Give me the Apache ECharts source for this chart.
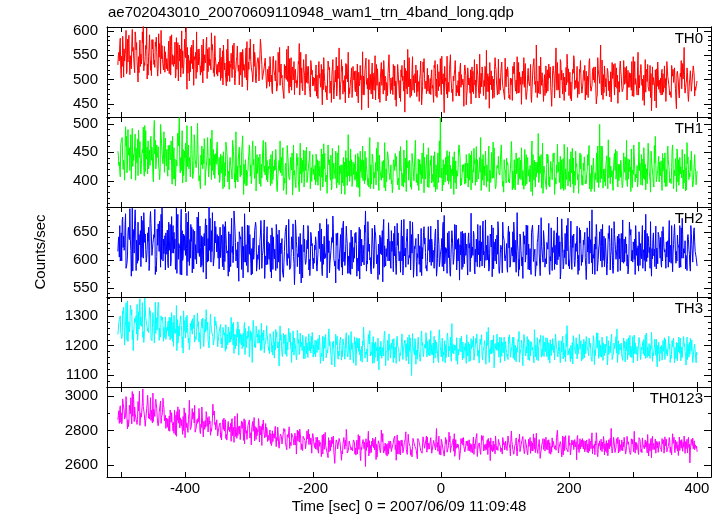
<!DOCTYPE html>
<html>
<head>
<meta charset="utf-8">
<script src="https://cdn.jsdelivr.net/npm/echarts@6/dist/echarts.min.js"></script>
<style>html,body{margin:0;padding:0;background:#fff}#c{width:724px;height:516px}</style>
</head>
<body>
<div id="c"></div>
<script>
const chartTitle = "ae702043010_20070609110948_wam1_trn_4band_long.qdp";
const xTitle = "Time [sec] 0 = 2007/06/09 11:09:48";
const yTitle = "Counts/sec";
const bandNames = ["TH0", "TH1", "TH2", "TH3", "TH0123"];
// Each band is stored as four interleaved bin sets, 3 s apart inside a set:
// A at tStart + 3i, C at +0.75, B at +1.5, D at +2.25
const tStart = -505, setStep = 3;
const setOffsets = {A: 0, C: 0.75, B: 1.5, D: 2.25};
const xTicks = [-500, -400, -300, -200, -100, 0, 100, 200, 300, 400];
const xLabels = [-400, -200, 0, 200, 400];

const th0A = [
530,572,548,505,560,583,541,522,566,598,537,514,552,575,529,606,548,519,563,540,587,526,551,570,533,
561,518,544,592,527,503,549,571,536,512,558,480,541,566,522,547,598,530,509,553,538,575,516,542,561,524,549,
507,543,528,571,515,496,538,554,521,489,547,530,509,562,518,499,536,583,512,527,493,545,516,531,502,540,
521,486,509,548,497,474,515,532,490,503,562,481,511,526,469,498,537,507,485,519,552,492,476,510,
488,512,470,503,531,479,495,458,520,497,541,482,466,509,490,527,475,501,556,486,
463,499,518,474,492,438,507,525,481,496,470,513,549,488,460,502,521,478,494,532,
471,505,487,445,516,498,529,476,490,562,484,467,508,493,519,455,500,536,481,497,
512,469,488,524,501,477,543,491,432,506,485,520,473,497,538,482,466,510,494,529,
478,503,450,517,489,532,471,498,515,486,560,475,494,507,463,521,489,502,536,480,
497,526,468,491,512,484,547,473,505,490,519,458,496,531,482,509,571,487,470,514,
493,528,476,502,445,518,489,535,472,499,513,484,552,467,495,521,480,506,490,539,
475,498,517,463,501,488,526,479,545,492,468,510,485,523,497,454,509,533,482,496,
518,471,490,527,484,502,466,515,493,556,479,488,509,474,531,495,436,504,520,486,
499,468,512,483,537,490,476,507,524,440,495,513,481,566,492,470,503,488,519,478
];
const th0B = [
556,521,589,538,512,574,549,603,527,561,495,581,543,518,570,532,592,508,555,577,523,546,601,537,515,
543,579,509,551,532,586,497,563,524,545,607,513,539,571,488,556,529,548,515,583,534,502,566,520,553,590,511,
536,498,559,520,487,548,531,504,575,513,528,491,556,519,540,478,565,525,509,547,534,497,571,506,523,482,
496,530,471,517,502,556,488,509,461,527,496,543,478,505,521,489,574,493,512,468,527,501,539,487,
503,466,524,491,448,515,487,538,472,509,460,495,528,474,541,498,452,517,483,506,
527,481,466,515,499,557,472,490,442,511,534,478,497,521,453,488,539,502,467,512,
494,531,458,499,476,520,507,433,518,485,501,547,473,526,489,512,468,543,497,476,
489,520,453,507,531,486,469,512,497,548,475,503,455,521,488,467,534,492,516,448,
511,472,526,494,462,508,552,485,467,522,496,441,518,483,545,498,470,514,487,459,
521,483,503,457,536,499,472,518,492,545,468,510,487,453,522,496,463,528,505,482,
467,509,532,484,518,462,503,479,541,488,457,525,494,515,476,549,498,463,521,485,
512,458,494,536,476,523,499,463,510,571,484,528,466,502,477,535,490,513,451,527,
486,539,503,462,514,478,547,490,468,509,531,457,498,521,483,463,526,489,442,511,
473,521,490,455,506,468,529,494,481,517,462,539,501,472,524,458,497,515,466,492
];
const th0C = [
549,585,527,563,601,536,510,571,544,589,519,558,532,614,547,501,567,539,582,525,556,594,512,541,568,
522,557,589,531,549,508,576,538,600,519,545,566,497,533,581,542,515,563,528,493,551,587,520,539,572,506,546,
529,565,503,542,517,583,496,533,551,512,569,489,527,545,504,578,521,537,495,556,513,538,583,500,526,548,
512,547,478,520,539,493,566,503,487,528,511,472,545,499,516,483,532,556,477,509,494,527,464,519,
498,530,461,512,486,545,474,503,525,453,491,519,482,565,497,470,508,531,462,500,
482,517,498,452,529,491,468,544,503,479,516,487,458,522,495,535,470,507,488,551,
503,469,528,487,512,455,498,540,481,506,463,519,492,530,475,501,448,515,488,523,
471,507,492,539,463,516,485,502,527,470,494,551,480,511,466,498,525,489,445,509,
524,486,508,471,499,536,462,513,490,527,475,506,489,461,520,495,542,478,503,467,
485,518,459,502,529,476,496,515,449,508,533,481,497,466,524,490,512,472,546,494,
510,472,498,526,481,507,565,487,462,519,496,475,531,499,456,513,484,527,470,503,
491,529,468,507,482,516,494,450,521,488,540,473,502,518,464,497,531,485,509,474,
507,482,525,458,498,513,476,537,491,468,520,501,447,515,486,529,472,508,495,536,
488,515,474,502,539,481,463,521,497,512,470,506,533,484,499,455,518,490,507,481
];
const th0D = [
538,503,566,552,517,591,529,558,514,576,547,527,598,535,563,509,550,582,531,568,507,574,543,520,557,
547,512,568,536,577,521,544,505,559,583,528,550,516,574,537,502,562,545,571,518,540,563,529,596,514,548,531,
515,546,489,534,562,508,525,570,502,539,517,556,485,531,565,510,542,524,573,498,537,519,551,506,544,492,
527,495,541,508,476,553,517,488,531,500,569,485,519,537,493,511,468,524,541,499,516,482,530,505,
476,509,537,484,521,496,463,531,489,513,478,546,502,459,517,487,533,495,471,524,
509,475,532,487,508,469,521,499,541,482,460,509,531,474,503,488,520,456,512,494,
478,516,497,531,462,505,488,523,470,545,497,478,512,465,496,538,485,502,471,509,
502,482,529,466,511,494,548,476,503,462,520,491,507,539,473,516,484,501,530,468,
489,520,475,541,483,505,471,526,498,459,512,535,479,501,527,468,491,516,482,544,
506,462,489,527,508,471,535,490,517,484,459,523,502,480,543,473,497,529,488,455,
481,520,503,467,528,492,478,512,536,470,505,489,522,461,508,540,483,496,515,472,
519,486,507,543,475,499,526,468,504,488,459,531,495,477,516,502,468,524,489,538,
475,511,492,519,484,537,465,502,527,483,509,470,541,496,476,512,489,456,522,480,
503,469,528,486,510,475,532,492,455,517,499,481,522,468,514,493,476,528,485,497
];

const th1A = [
452,418,471,436,495,427,458,403,446,482,431,465,412,449,497,438,421,474,443,506,429,460,415,451,486,
437,408,463,425,449,391,472,511,418,455,440,497,421,446,404,468,429,452,386,437,474,416,443,427,489,410,448,
432,397,418,451,409,438,385,424,462,413,401,443,427,479,395,419,436,408,455,416,382,430,447,405,421,468,
398,427,445,403,419,381,436,412,458,396,424,407,441,375,418,432,401,466,410,389,428,415,452,399,
421,393,437,408,456,399,416,378,428,445,403,419,387,462,411,396,433,407,481,415,
390,425,404,448,372,418,436,401,413,459,394,428,409,441,383,420,405,467,398,431,
414,379,426,443,400,417,391,454,408,423,436,385,412,471,402,419,395,438,410,446,
388,427,403,451,416,397,512,382,429,410,444,399,421,376,435,408,462,393,417,431,
405,448,384,419,437,398,412,476,401,426,389,443,415,404,458,391,422,410,437,380,
417,432,396,469,408,384,425,441,402,418,455,394,411,428,374,436,407,483,413,399,
426,401,446,389,419,433,405,464,397,412,439,385,423,408,451,394,417,430,378,421,
409,442,395,427,413,386,438,402,461,499,404,420,391,447,411,429,383,418,452,400,
436,392,415,471,403,424,388,445,410,397,431,419,458,384,426,407,441,395,478,412,
398,435,417,449,390,427,404,463,419,381,437,412,455,396,423,442,407,431,393,416
];
const th1B = [
427,463,439,401,478,445,416,492,433,457,409,469,447,425,488,412,454,436,398,471,441,419,482,430,462,
455,419,441,478,403,436,461,414,488,427,398,452,433,470,417,441,501,409,428,456,392,445,421,467,436,404,458,
410,447,426,389,462,417,441,403,430,486,398,421,452,376,437,414,463,395,428,409,446,419,390,457,426,402,
425,391,452,418,436,400,470,409,387,431,445,402,419,463,394,427,381,440,416,453,397,433,408,446,
402,438,415,383,447,421,396,463,409,388,431,452,397,426,377,441,418,392,435,408,
433,401,389,442,416,461,395,427,404,386,447,415,393,468,420,399,436,382,451,410,
395,432,448,406,384,429,413,397,471,401,389,450,424,397,438,411,449,379,421,402,
419,396,444,381,428,470,405,437,398,453,415,386,442,403,418,457,391,428,404,446,
389,426,411,457,395,423,441,386,419,452,407,381,431,468,396,427,414,452,390,421,
440,398,421,384,437,449,393,411,459,385,427,441,398,452,416,389,433,405,446,378,
409,447,392,434,401,376,428,416,443,387,464,407,391,438,420,379,452,402,436,413,
431,395,418,462,381,426,409,449,388,427,445,398,436,472,395,418,441,403,389,429,
404,449,427,390,437,456,411,398,427,468,393,438,402,421,445,380,417,462,398,431,
418,383,440,405,461,397,423,386,439,452,408,427,386,433,467,402,418,389,446,405
];
const th1C = [
445,407,476,429,461,490,418,452,436,401,473,441,428,494,416,459,432,478,410,447,463,426,499,438,415,
426,462,437,394,458,420,484,431,447,409,466,425,441,496,412,438,457,400,445,421,461,433,407,474,418,446,429,
426,405,444,419,468,398,433,414,451,387,426,459,410,437,421,392,447,428,470,404,419,441,396,433,415,452,
409,438,395,426,455,402,418,441,383,427,462,406,431,397,420,448,389,412,436,404,459,421,386,430,
414,447,392,425,406,465,398,419,437,384,421,404,449,393,428,416,376,440,409,456,
398,430,416,388,452,405,423,441,392,476,409,386,432,417,445,401,427,393,436,414,
428,390,418,442,405,460,397,423,381,434,416,448,400,426,392,437,419,466,403,389,
407,444,398,421,385,433,453,402,417,438,394,427,409,451,386,424,441,405,429,396,
431,401,452,415,392,437,420,383,446,409,428,461,397,418,432,389,443,413,401,437,
396,428,410,447,387,422,439,404,458,415,391,431,420,381,446,408,427,397,435,466,
420,385,438,413,402,449,394,426,411,437,383,421,459,399,414,440,392,428,407,446,
392,427,413,449,405,418,381,438,424,397,461,410,429,386,441,407,424,455,397,419,
421,408,442,396,430,381,419,447,405,433,417,392,439,411,466,401,426,389,432,418,
433,401,424,390,445,418,395,431,409,456,392,425,413,447,384,420,436,401,428,393
];
const th1D = [
433,470,420,457,414,446,481,425,462,437,489,419,455,408,443,470,427,459,488,421,447,402,466,439,475,
418,451,470,403,438,426,483,441,396,452,429,463,407,436,481,423,449,397,461,430,415,476,439,402,455,428,468,
441,413,386,432,452,409,427,471,398,422,440,407,463,429,391,418,445,402,438,461,413,395,429,471,410,436,
421,446,402,437,391,428,414,452,405,376,434,419,449,410,388,441,425,396,454,418,401,437,423,411,
427,398,435,414,389,448,410,432,401,457,419,396,440,412,428,391,453,418,399,437,
411,446,394,421,437,400,452,415,389,428,442,405,457,397,419,434,388,421,445,402,
401,437,425,393,452,416,389,440,428,404,395,426,447,412,383,429,404,441,423,458,
436,412,389,428,449,406,422,393,441,400,451,412,438,396,420,463,405,416,394,432,
412,445,396,429,460,403,415,438,392,427,399,419,450,405,386,428,417,463,399,424,
428,403,439,417,395,412,406,436,392,425,446,408,427,470,401,433,414,443,387,422,
398,431,407,423,448,395,414,433,385,420,445,402,416,389,457,408,425,411,449,393,
418,401,446,386,427,440,414,397,432,461,387,421,444,405,426,393,448,411,429,406,
388,424,401,439,416,397,463,412,389,418,446,404,429,395,421,452,407,431,398,443,
409,448,397,420,437,404,454,411,426,398,441,405,419,382,430,414,452,396,423,417
];

const th2A = [
615,661,598,642,682,607,636,571,654,689,622,645,588,670,631,603,658,686,618,640,579,664,627,693,611,
648,596,635,677,612,583,656,630,690,605,641,572,627,663,618,651,593,685,622,608,647,566,638,674,615,599,659,
621,587,644,603,668,612,579,637,595,655,618,562,641,609,682,590,626,647,575,613,658,601,633,585,649,607,
592,629,568,641,604,585,653,611,574,636,598,672,587,619,556,633,605,647,580,614,596,661,572,625,
603,641,579,620,655,592,611,568,634,617,678,589,626,601,645,573,614,660,596,631,
584,622,649,602,566,637,610,687,593,628,575,619,651,598,613,640,561,625,606,666,
591,633,607,574,648,615,598,672,587,621,604,645,569,628,611,592,656,603,639,580,
617,660,596,624,571,642,609,588,679,613,630,577,652,600,619,636,564,627,605,648,
594,621,683,608,575,639,615,598,657,586,626,611,646,570,632,603,668,590,618,641,
607,578,650,622,596,635,684,601,616,567,643,609,628,589,662,614,597,637,572,624,
640,603,619,574,655,611,593,676,606,630,584,647,616,599,669,622,588,634,608,653,
596,627,565,641,612,689,603,619,582,650,624,607,638,592,661,615,576,633,620,646,
609,671,597,628,583,644,617,601,658,625,590,636,613,681,604,622,571,648,630,611,
637,594,659,618,605,642,626,579,663,615,632,598,674,620,608,645,589,627,652,614
];
const th2B = [
641,604,676,622,589,658,637,692,612,581,667,633,605,684,619,648,592,662,637,574,655,615,681,598,643,
610,667,589,643,620,692,601,574,652,617,683,597,636,658,584,627,671,606,643,578,660,622,694,596,631,669,614,
642,604,588,659,627,571,646,613,687,598,632,653,583,624,596,662,610,573,639,655,590,626,670,612,567,638,
615,579,646,602,663,621,562,638,595,654,611,583,641,606,671,588,627,559,644,603,635,582,649,597,
626,588,651,607,572,642,618,663,594,640,603,559,648,612,587,669,601,628,576,653,
609,647,571,635,618,596,662,580,641,604,656,592,627,565,644,609,672,589,637,598,
652,579,624,665,598,638,573,611,643,601,582,667,624,597,646,578,622,659,585,631,
596,637,613,655,603,588,622,667,597,576,651,604,621,663,582,638,609,651,593,617,
638,579,612,645,596,663,587,632,609,671,600,584,623,657,598,644,581,626,667,603,
629,660,591,607,648,578,615,646,589,638,603,661,582,649,597,571,631,612,675,596,
587,631,665,598,622,583,648,609,566,641,618,592,674,604,583,646,629,601,657,590,
635,604,657,593,628,609,574,649,621,598,663,588,615,647,582,624,668,601,579,638,
628,594,641,609,667,598,632,574,621,650,606,585,653,597,631,668,602,619,584,649,
603,651,622,585,634,596,661,627,608,644,586,657,603,634,581,619,661,596,632,608
];
const th2C = [
633,598,670,617,585,649,691,610,637,660,594,627,678,603,646,619,581,665,629,690,606,648,587,656,624,
629,586,663,612,649,597,681,620,573,646,608,667,590,633,654,601,676,614,587,641,625,662,598,619,684,607,638,
603,658,621,582,647,616,595,674,608,631,586,650,614,568,636,603,661,594,625,652,580,617,644,608,671,591,
632,596,657,614,581,645,607,626,569,651,590,628,611,664,583,620,641,596,568,637,610,654,588,629,
594,632,612,665,583,625,604,644,577,619,656,598,633,581,613,662,590,640,607,574,
641,603,627,580,654,612,591,633,668,600,621,585,646,609,574,630,657,597,615,639,
585,622,660,601,617,578,642,607,631,592,669,612,586,638,604,625,572,649,613,597,
636,590,617,646,582,628,611,659,593,620,604,571,640,615,662,598,627,583,647,608,
573,629,604,651,619,588,634,597,669,611,625,580,642,606,619,593,655,612,577,634,
611,646,587,622,667,600,628,583,613,650,596,631,608,574,645,619,590,662,605,627,
623,593,638,606,581,652,615,600,632,673,590,618,646,584,612,637,599,660,581,621,
606,649,592,617,636,575,628,663,601,624,587,642,614,595,631,656,590,618,642,602,
647,600,623,589,612,654,596,637,608,580,629,661,599,616,642,585,620,607,660,593,
619,587,642,603,625,670,594,614,639,598,621,587,645,612,600,636,580,624,657,605
];
const th2D = [
605,648,622,663,594,641,617,580,670,635,599,652,620,687,596,633,671,608,645,588,626,669,601,637,582,
653,617,598,661,637,576,629,664,599,643,620,686,603,577,646,625,612,660,590,638,673,596,617,652,589,630,645,
584,626,663,597,612,650,588,624,671,606,590,637,659,596,627,578,645,620,601,667,609,583,648,623,597,659,
601,644,583,619,652,596,630,578,615,662,603,580,636,594,655,611,575,627,662,592,620,601,643,584,
618,580,641,597,628,602,673,613,591,631,604,647,584,623,657,597,629,576,614,650,
596,631,603,658,589,626,649,598,615,580,637,662,593,628,611,652,587,620,598,633,
615,647,593,626,604,671,590,621,655,608,584,634,620,571,644,617,602,628,590,659,
603,627,585,612,671,596,638,580,622,648,609,629,592,636,601,619,650,587,614,628,
648,597,623,582,637,609,661,589,615,599,643,621,662,584,637,610,576,628,644,598,
587,621,609,650,596,616,571,639,605,628,662,583,620,646,597,572,638,609,624,652,
602,634,581,657,613,626,591,643,578,612,604,661,589,627,643,597,615,574,630,609,
627,588,614,669,595,603,641,580,628,655,599,614,573,638,608,584,645,603,627,581,
596,637,612,575,649,609,623,661,590,632,602,618,580,647,613,598,636,588,621,645,
640,598,614,632,587,621,605,648,594,629,661,603,620,584,639,610,647,597,615,589
];

const th3A = [
1238,1291,1224,1330,1268,1352,1247,1305,1183,1279,1340,1256,1297,1228,1361,1272,1244,1318,1261,1209,1295,1348,1237,1283,1262,
1221,1276,1240,1312,1198,1257,1289,1233,1268,1175,1251,1303,1226,1264,1292,1212,1247,1281,1190,1259,1236,1322,1218,1270,1243,1205,1284,
1196,1247,1225,1268,1181,1239,1210,1296,1203,1232,1257,1168,1241,1215,1279,1194,1228,1251,1143,1222,1266,1208,1235,1187,1253,1214,
1226,1173,1209,1248,1185,1201,1131,1237,1192,1218,1164,1259,1196,1179,1226,1152,1208,1243,1183,1199,1231,1160,1214,1189,
1203,1162,1191,1236,1174,1148,1219,1185,1257,1170,1196,1128,1208,1181,1229,1163,1194,1244,1176,1152,
1210,1187,1133,1224,1169,1198,1263,1178,1145,1206,1185,1231,1160,1193,1118,1215,1182,1249,1171,1197,
1158,1221,1186,1140,1203,1175,1240,1192,1166,1228,1181,1099,1199,1213,1154,1187,1236,1173,1205,1162,
1194,1251,1169,1184,1212,1143,1197,1226,1176,1159,1218,1189,1275,1172,1201,1137,1190,1233,1167,1208,
1181,1146,1224,1195,1168,1240,1179,1204,1151,1217,1186,1262,1173,1196,1125,1209,1183,1229,1164,1198,
1214,1171,1237,1185,1157,1202,1178,1248,1190,1132,1207,1175,1221,1166,1195,1254,1180,1149,1211,1188,
1163,1227,1192,1141,1205,1177,1239,1169,1197,1216,1155,1186,1268,1174,1201,1138,1190,1225,1168,1182,
1206,1159,1231,1180,1194,1147,1219,1172,1243,1188,1161,1210,1176,1135,1198,1224,1166,1189,1257,1171,
1193,1150,1215,1184,1227,1162,1179,1236,1170,1144,1204,1187,1221,1157,1196,1173,1245,1165,1190,1128,
1207,1174,1218,1153,1188,1232,1167,1195,1142,1211,1179,1226,1160,1198,1134,1205,1171,1219,1183,1159
];
const th3B = [
1279,1245,1318,1202,1290,1256,1337,1221,1274,1302,1236,1359,1265,1211,1296,1249,1329,1230,1284,1347,1253,1218,1301,1268,1227,
1262,1232,1295,1214,1254,1336,1221,1276,1193,1249,1297,1238,1204,1285,1258,1227,1311,1244,1266,1215,1289,1253,1192,1271,1231,1298,1256,
1231,1272,1205,1244,1188,1263,1227,1250,1174,1238,1281,1211,1236,1197,1258,1224,1162,1245,1286,1207,1229,1254,1183,1240,1201,1268,
1184,1236,1201,1158,1229,1213,1267,1174,1207,1238,1186,1213,1143,1227,1201,1252,1170,1195,1222,1156,1209,1240,1175,1218,
1171,1217,1186,1140,1203,1228,1159,1196,1214,1135,1183,1239,1167,1202,1151,1222,1187,1173,1208,1248,
1160,1203,1227,1180,1149,1216,1194,1171,1238,1165,1212,1142,1199,1226,1181,1157,1203,1132,1218,1185,
1209,1143,1196,1232,1170,1186,1153,1219,1207,1138,1195,1241,1168,1185,1229,1147,1202,1190,1244,1177,
1165,1203,1141,1219,1193,1254,1162,1179,1142,1231,1199,1157,1206,1184,1227,1168,1215,1152,1196,1140,
1213,1175,1190,1151,1226,1164,1203,1237,1182,1155,1201,1143,1219,1176,1205,1239,1161,1194,1212,1148,
1177,1229,1161,1208,1192,1145,1221,1171,1203,1238,1166,1199,1150,1213,1183,1162,1227,1196,1171,1234,
1199,1163,1210,1185,1224,1152,1196,1181,1142,1223,1189,1240,1168,1194,1156,1219,1173,1206,1239,1149,
1172,1214,1195,1226,1162,1201,1185,1244,1157,1203,1227,1166,1198,1217,1176,1153,1209,1231,1166,1205,
1168,1226,1179,1153,1201,1190,1142,1210,1197,1228,1163,1214,1178,1232,1165,1201,1147,1193,1222,1173,
1188,1151,1197,1225,1163,1206,1185,1226,1168,1149,1203,1157,1214,1180,1229,1161,1196,1143,1205,1178
];
const th3C = [
1256,1301,1233,1282,1345,1214,1266,1322,1241,1289,1218,1330,1275,1248,1356,1263,1290,1225,1312,1251,1271,1338,1229,1297,1244,
1237,1284,1219,1262,1303,1243,1208,1270,1249,1318,1226,1261,1186,1252,1287,1231,1274,1213,1258,1294,1235,1267,1219,1307,1248,1226,1273,
1214,1250,1192,1236,1271,1203,1246,1222,1279,1190,1229,1255,1204,1242,1170,1233,1266,1217,1239,1195,1258,1227,1201,1244,1176,1230,
1204,1241,1178,1216,1255,1192,1227,1199,1242,1171,1212,1235,1186,1250,1208,1165,1221,1196,1236,1189,1172,1227,1203,1245,
1186,1158,1224,1197,1163,1210,1238,1176,1199,1145,1216,1188,1232,1165,1201,1223,1154,1190,1235,1172,
1195,1230,1167,1209,1186,1144,1225,1179,1203,1251,1170,1192,1213,1148,1196,1221,1165,1207,1183,1240,
1176,1204,1158,1221,1190,1167,1234,1182,1149,1208,1226,1171,1193,1137,1214,1182,1250,1163,1191,1215,
1221,1170,1209,1158,1196,1235,1180,1147,1217,1193,1162,1229,1175,1203,1149,1189,1226,1198,1158,1212,
1165,1206,1189,1232,1170,1193,1141,1216,1181,1204,1247,1166,1197,1220,1159,1185,1211,1142,1198,1229,
1190,1153,1213,1182,1228,1167,1200,1144,1219,1188,1174,1231,1159,1204,1186,1216,1152,1197,1235,1166,
1212,1179,1152,1220,1185,1201,1241,1162,1194,1178,1209,1146,1222,1191,1167,1234,1180,1155,1203,1217,
1154,1197,1220,1166,1208,1183,1136,1214,1192,1163,1229,1178,1205,1151,1191,1239,1175,1208,1143,1196,
1209,1181,1145,1222,1168,1199,1231,1173,1187,1210,1153,1198,1166,1243,1182,1157,1213,1184,1167,1201,
1147,1201,1181,1222,1165,1190,1157,1213,1194,1170,1229,1149,1186,1207,1164,1192,1225,1168,1183,1142
];
const th3D = [
1288,1236,1309,1261,1219,1281,1324,1252,1293,1240,1315,1269,1346,1232,1285,1257,1305,1217,1277,1242,1322,1260,1286,1215,1298,
1250,1297,1225,1279,1241,1183,1266,1301,1230,1285,1245,1209,1276,1239,1304,1221,1263,1242,1290,1197,1247,1280,1235,1259,1202,1268,1233,
1247,1206,1262,1229,1186,1253,1213,1274,1238,1199,1259,1224,1190,1268,1232,1249,1185,1221,1262,1193,1240,1209,1276,1218,1196,1237,
1195,1229,1168,1213,1247,1190,1218,1163,1236,1205,1180,1244,1212,1168,1199,1237,1178,1212,1156,1224,1197,1183,1232,1161,
1219,1177,1204,1160,1233,1191,1171,1247,1184,1211,1165,1203,1154,1220,1183,1199,1230,1162,1209,1187,
1141,1214,1192,1225,1173,1201,1158,1189,1221,1179,1140,1207,1183,1229,1166,1194,1239,1176,1150,1203,
1189,1224,1173,1199,1147,1212,1186,1208,1163,1237,1170,1199,1224,1176,1187,1159,1210,1193,1226,1168,
1184,1207,1232,1175,1152,1221,1196,1168,1203,1243,1182,1147,1210,1191,1228,1163,1179,1212,1184,1237,
1196,1149,1217,1165,1208,1185,1223,1162,1198,1137,1211,1189,1172,1235,1190,1207,1155,1228,1176,1189,
1163,1208,1174,1229,1151,1193,1214,1177,1164,1226,1197,1152,1215,1185,1142,1203,1179,1221,1161,1199,
1180,1225,1194,1166,1210,1147,1188,1217,1175,1232,1162,1197,1183,1146,1211,1196,1227,1171,1188,1158,
1222,1173,1189,1205,1154,1234,1166,1192,1218,1181,1150,1205,1232,1170,1214,1162,1190,1175,1217,1186,
1157,1193,1212,1170,1235,1159,1204,1184,1149,1218,1195,1172,1236,1160,1207,1189,1176,1222,1150,1212,
1196,1164,1227,1172,1204,1143,1218,1182,1156,1209,1174,1196,1231,1168,1153,1211,1182,1148,1205,1170
];

const th0123A = [
2862,2921,2838,2957,2884,2809,2946,2873,3012,2897,2835,2968,2902,3041,2858,2926,2871,2990,2843,2912,2955,2827,2894,2868,2931,
2812,2868,2795,2903,2847,2774,2859,2921,2826,2881,2758,2842,2897,2803,2865,2946,2818,2851,2782,2874,2836,2909,2791,2855,2823,2887,2804,
2768,2831,2745,2806,2862,2772,2819,2737,2795,2883,2754,2811,2786,2847,2722,2799,2834,2761,2808,2875,2748,2792,2826,2713,2801,2840,
2736,2789,2712,2768,2824,2741,2697,2775,2753,2806,2688,2762,2731,2794,2748,2663,2772,2815,2726,2757,2704,2783,2739,2668,
2735,2692,2761,2708,2648,2724,2789,2701,2676,2743,2715,2609,2752,2698,2731,2664,2718,2806,2683,2727,
2695,2749,2657,2712,2768,2688,2726,2591,2703,2741,2672,2758,2711,2645,2734,2699,2782,2680,2719,2662,
2738,2701,2756,2627,2714,2687,2745,2706,2792,2669,2722,2693,2751,2710,2636,2729,2685,2763,2704,2674,
2727,2758,2690,2716,2811,2682,2705,2739,2651,2723,2696,2768,2713,2679,2747,2702,2631,2725,2759,2688,
2711,2746,2673,2730,2694,2782,2707,2661,2736,2717,2689,2754,2625,2721,2700,2771,2684,2743,2698,2716,
2738,2676,2724,2797,2691,2710,2652,2733,2706,2765,2681,2719,2749,2667,2728,2693,2784,2701,2638,2722,
2705,2761,2687,2729,2674,2744,2712,2801,2695,2723,2658,2737,2709,2770,2682,2716,2747,2630,2719,2692,
2753,2700,2731,2669,2724,2786,2697,2714,2648,2740,2706,2765,2679,2727,2693,2812,2711,2672,2738,2702,
2719,2682,2758,2707,2734,2661,2722,2795,2688,2713,2746,2671,2730,2703,2776,2694,2641,2725,2751,2698,
2736,2690,2717,2763,2676,2728,2704,2781,2685,2720,2655,2742,2710,2768,2693,2725,2612,2739,2701,2724
];
const th0123B = [
2914,2847,2983,2866,2935,2822,2897,3026,2851,2904,2968,2829,2881,2942,2815,3004,2866,2917,2852,2963,2876,2904,2841,2987,2873,
2853,2799,2886,2831,2917,2766,2842,2874,2808,2931,2853,2789,2868,2824,2906,2779,2841,2889,2817,2762,2858,2825,2881,2810,2952,2834,2862,
2812,2759,2845,2796,2778,2852,2804,2869,2731,2817,2770,2826,2855,2742,2803,2784,2861,2716,2795,2823,2769,2848,2783,2804,2757,2818,
2771,2724,2798,2755,2706,2789,2764,2721,2812,2739,2775,2696,2783,2749,2716,2802,2732,2689,2766,2741,2797,2718,2756,2782,
2701,2747,2668,2728,2773,2690,2704,2642,2737,2762,2681,2716,2693,2755,2627,2710,2744,2669,2739,2686,
2721,2664,2744,2690,2625,2707,2731,2684,2795,2672,2709,2748,2631,2720,2687,2756,2669,2735,2693,2744,
2678,2729,2689,2774,2662,2743,2670,2721,2684,2739,2656,2707,2736,2682,2762,2701,2668,2723,2747,2690,
2701,2668,2742,2687,2730,2661,2749,2683,2718,2674,2790,2698,2735,2650,2706,2729,2683,2754,2694,2738,
2683,2725,2707,2661,2752,2690,2724,2771,2682,2697,2746,2714,2683,2739,2664,2707,2733,2676,2759,2687,
2697,2741,2653,2719,2685,2757,2726,2677,2742,2689,2731,2659,2700,2722,2780,2671,2709,2747,2683,2753,
2680,2724,2746,2662,2703,2692,2758,2669,2735,2681,2762,2702,2676,2727,2745,2689,2712,2771,2681,2744,
2692,2738,2675,2752,2694,2712,2659,2748,2725,2685,2733,2658,2741,2696,2754,2669,2737,2703,2761,2677,
2745,2704,2663,2741,2685,2752,2700,2668,2734,2758,2676,2722,2691,2745,2652,2727,2766,2689,2714,2673,
2702,2753,2668,2731,2692,2740,2659,2718,2744,2681,2762,2697,2730,2667,2749,2701,2675,2756,2688,2709
];
const th0123C = [
2887,2943,2852,2915,2996,2861,2924,2838,2979,2905,2862,3028,2877,2939,2824,2953,2896,2858,3017,2881,2926,2849,2971,2903,2856,
2872,2826,2918,2851,2783,2889,2937,2814,2863,2799,2902,2848,2975,2821,2877,2790,2863,2928,2836,2879,2806,2891,2845,2772,2868,2913,2829,
2789,2844,2807,2871,2753,2826,2792,2853,2818,2765,2898,2781,2834,2806,2859,2748,2820,2787,2852,2739,2816,2869,2774,2838,2796,2763,
2758,2803,2726,2781,2747,2819,2703,2764,2793,2732,2776,2821,2712,2758,2784,2729,2796,2751,2683,2770,2741,2807,2719,2754,
2716,2760,2683,2733,2696,2779,2711,2657,2741,2705,2767,2680,2729,2754,2663,2719,2691,2766,2703,2742,
2682,2731,2706,2776,2654,2718,2694,2752,2712,2667,2737,2700,2761,2678,2715,2802,2688,2727,2651,2739,
2724,2685,2767,2702,2741,2659,2716,2731,2690,2778,2707,2647,2729,2694,2753,2716,2675,2738,2699,2761,
2692,2750,2676,2722,2703,2767,2657,2731,2688,2746,2712,2673,2729,2781,2696,2719,2664,2740,2706,2683,
2740,2681,2718,2762,2697,2649,2728,2711,2769,2684,2733,2701,2757,2676,2719,2688,2748,2707,2663,2729,
2711,2768,2695,2737,2662,2724,2703,2779,2689,2716,2747,2674,2708,2739,2681,2757,2698,2723,2669,2735,
2749,2690,2721,2676,2757,2712,2685,2736,2702,2647,2726,2770,2695,2714,2680,2741,2704,2759,2672,2728,
2717,2676,2745,2703,2738,2664,2721,2787,2690,2711,2677,2739,2718,2653,2732,2697,2760,2681,2724,2746,
2685,2733,2697,2766,2711,2673,2748,2702,2729,2661,2719,2757,2693,2736,2709,2680,2743,2712,2668,2730,
2731,2677,2746,2710,2688,2759,2693,2724,2671,2735,2707,2748,2679,2722,2694,2760,2686,2713,2740,2697
];
const th0123D = [
2841,2902,2957,2869,2924,2851,2990,2882,2936,2847,2913,2878,2962,2895,2833,2947,2905,2860,2923,2981,2839,2912,2876,2950,2888,
2819,2884,2848,2796,2865,2909,2833,2858,2777,2890,2817,2862,2805,2927,2844,2813,2870,2798,2936,2852,2819,2874,2837,2795,2889,2846,2820,
2826,2787,2863,2819,2744,2802,2841,2769,2858,2790,2823,2747,2812,2868,2783,2829,2756,2815,2843,2779,2804,2733,2822,2861,2776,2805,
2742,2781,2735,2801,2760,2716,2778,2745,2794,2701,2759,2732,2786,2715,2768,2740,2808,2722,2763,2694,2751,2779,2730,2767,
2728,2689,2744,2716,2663,2739,2701,2758,2683,2724,2672,2745,2698,2731,2680,2759,2710,2666,2729,2701,
2745,2698,2663,2729,2702,2747,2683,2731,2652,2714,2756,2687,2719,2740,2671,2734,2708,2659,2726,2695,
2693,2752,2716,2664,2737,2709,2680,2752,2661,2723,2689,2754,2708,2672,2741,2683,2729,2697,2768,2711,
2739,2684,2727,2756,2679,2713,2737,2692,2759,2668,2735,2702,2751,2667,2722,2687,2753,2715,2676,2746,
2693,2734,2670,2721,2745,2711,2678,2742,2697,2722,2660,2737,2716,2684,2768,2698,2723,2679,2745,2702,
2684,2726,2754,2689,2711,2678,2748,2697,2736,2665,2719,2698,2759,2681,2724,2708,2667,2741,2711,2690,
2715,2742,2667,2708,2738,2681,2753,2696,2722,2768,2683,2711,2739,2659,2728,2697,2734,2690,2752,2705,
2742,2689,2721,2680,2754,2706,2738,2665,2712,2749,2694,2723,2671,2746,2708,2686,2726,2752,2669,2717,
2708,2760,2679,2720,2688,2742,2676,2731,2705,2764,2691,2716,2745,2670,2724,2753,2689,2711,2737,2684,
2698,2722,2684,2749,2707,2672,2731,2760,2695,2716,2683,2747,2703,2735,2669,2721,2748,2694,2717,2676
];

// y-axis tick labels per panel
const yLabels = [[450,500,550,600],[400,450,500],[550,600,650],[1100,1200,1300],[2600,2800,3000]];
const yMinorStep = [10,10,10,20,100];
const yRange = [[423,608],[354,512],[534,694],[1060,1365],[2530,3052]];
const bandSets = [
  {A:th0A, B:th0B, C:th0C, D:th0D},
  {A:th1A, B:th1B, C:th1C, D:th1D},
  {A:th2A, B:th2B, C:th2C, D:th2D},
  {A:th3A, B:th3B, C:th3C, D:th3D},
  {A:th0123A, B:th0123B, C:th0123C, D:th0123D}
];
const colors = ["#ff0000","#00ff00","#0000ff","#00ffff","#ff00ff"];

const L = 107, R = 13, T0 = 27, H = 90;
const font = "Liberation Sans, Arial, Helvetica, sans-serif";
const grids = [], xAxes = [], yAxes = [], series = [], graphics = [];
const black = {lineStyle:{color:"#000",width:1}};
const plain = v => String(v);

function buildPoints(sets) {
  const pts = [];
  for (const key of Object.keys(setOffsets)) {
    const arr = sets[key];
    for (let i = 0; i < arr.length; i++) pts.push([tStart + setOffsets[key] + i*setStep, arr[i]]);
  }
  pts.sort((p, q) => p[0] - q[0]);
  return pts;
}

for (let k = 0; k < 5; k++) {
  grids.push({left:L, right:R, top:T0 + k*H, height:H, containLabel:false});
  const last = (k === 4);
  const xb = {
    type:"value", gridIndex:k, min:-522, max:422, position:"bottom",
    axisLine:{show:true, onZero:false, ...black},
    axisTick:{show:true, inside:true, length:5, customValues:xTicks, lineStyle:{color:"#000"}},
    axisLabel:{show:last, customValues:xLabels, margin:4, fontSize:15, color:"#000", fontFamily:font, formatter:plain},
    splitLine:{show:false}
  };
  if (last) { xb.name = xTitle; xb.nameLocation = "middle"; xb.nameGap = 22;
    xb.nameTextStyle = {fontSize:15, color:"#000", fontFamily:font}; }
  xAxes.push(xb);
  xAxes.push({
    type:"value", gridIndex:k, min:-522, max:422, position:"top",
    axisLine:{show:true, onZero:false, ...black},
    axisTick:{show:true, inside:true, length:5, customValues:xTicks, lineStyle:{color:"#000"}},
    axisLabel:{show:false}, splitLine:{show:false}
  });
  const [mn, mx] = yRange[k];
  const minors = [];
  for (let v = Math.ceil(mn / yMinorStep[k]) * yMinorStep[k]; v <= mx; v += yMinorStep[k]) minors.push(v);
  const base = {type:"value", gridIndex:k, min:mn, max:mx, splitLine:{show:false},
    axisLine:{show:true, onZero:false, ...black}};
  yAxes.push({...base, position:"left",
    axisTick:{show:true, inside:true, length:7, customValues:yLabels[k], lineStyle:{color:"#000"}},
    axisLabel:{show:true, customValues:yLabels[k], margin:9, fontSize:15, color:"#000", fontFamily:font, formatter:plain}});
  yAxes.push({...base, position:"left",
    axisTick:{show:true, inside:true, length:3, customValues:minors, lineStyle:{color:"#000"}},
    axisLabel:{show:false}});
  yAxes.push({...base, position:"right",
    axisTick:{show:true, inside:true, length:7, customValues:yLabels[k], lineStyle:{color:"#000"}},
    axisLabel:{show:false}});
  yAxes.push({...base, position:"right",
    axisTick:{show:true, inside:true, length:3, customValues:minors, lineStyle:{color:"#000"}},
    axisLabel:{show:false}});
  series.push({
    type:"line", xAxisIndex:2*k, yAxisIndex:4*k, showSymbol:false, symbol:"none",
    data: buildPoints(bandSets[k]),
    lineStyle:{color:colors[k], width:1}, itemStyle:{color:colors[k]},
    animation:false, clip:true
  });
  graphics.push({type:"text", right:R + 8, top:T0 + k*H + 4,
    style:{text:bandNames[k], fill:"#000", font:"15px " + font}});
}
graphics.push({type:"text", left:L + 1, top:5,
  style:{text:chartTitle, fill:"#000", font:"15px " + font}});
graphics.push({type:"text", x:41, y:252, rotation:Math.PI/2,
  style:{text:yTitle, fill:"#000", font:"15px " + font, textAlign:"center", textVerticalAlign:"middle"}});

const chart = echarts.init(document.getElementById("c"), null, {renderer:"canvas"});
chart.setOption({
  animation:false, backgroundColor:"#fff",
  grid:grids, xAxis:xAxes, yAxis:yAxes, series:series, graphic:graphics
});
</script>
</body>
</html>
